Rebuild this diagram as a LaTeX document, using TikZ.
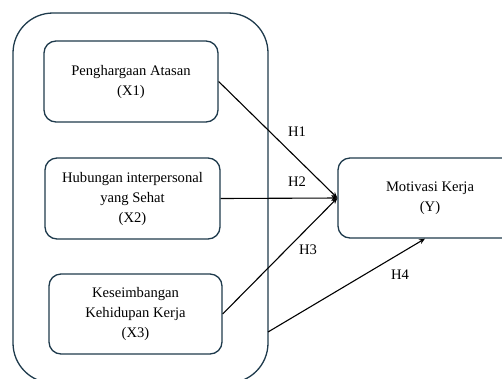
\documentclass[tikz,border=0pt]{standalone}
\usepackage{fontspec}
\setmainfont{Liberation Serif}
\usetikzlibrary{arrows.meta,positioning}
\definecolor{boxline}{HTML}{1E3A4C}
\begin{document}
\begin{tikzpicture}[x=1pt,y=-1pt,
    var/.style={draw=boxline, line width=1.3pt, rounded corners=12pt, align=center,
        font=\fontsize{14.6}{20}\selectfont, minimum height=81pt, inner sep=0pt},
    link/.style={-{Stealth[length=6pt,width=5pt]}, line width=1.1pt},
    hyp/.style={font=\fontsize{14.6}{18}\selectfont, inner sep=0pt}]
    \useasboundingbox (0,0) rectangle (502,378);
    % Group of independent variables
    \node[draw=boxline, line width=1.3pt, rounded corners=40pt, minimum width=255pt, minimum height=370pt] (grp) at (140.5,198) {};
    % Variables
    \node[var, minimum width=174pt] (x1) at (131,81.5) {Penghargaan Atasan\\(X1)};
    \node[var, minimum width=175pt] (x2) at (132.5,198.5) {Hubungan interpersonal\\yang Sehat\\(X2)};
    \node[var, minimum width=173pt, minimum height=80pt] (x3) at (135.5,314) {Keseimbangan\\Kehidupan Kerja\\(X3)};
    \node[var, minimum width=184pt, minimum height=80pt] (y) at (430,198) {Motivasi Kerja\\(Y)};
    % Hypotheses
    \coordinate (h4start) at (268,332);
    \draw[link] (x1.east) -- (y.west);
    \draw[link] (x2.east) -- (y.west);
    \draw[link] (x3.east) -- (y.west);
    \draw[link] (h4start) -- ([xshift=-5pt]y.south);
    \node[hyp] (h1) at (297,132) {H1};
    \node[hyp] (h2) at (297,182) {H2};
    \node[hyp] (h3) at (308,250) {H3};
    \node[hyp] (h4) at (400,275) {H4};
\end{tikzpicture}
\end{document}
